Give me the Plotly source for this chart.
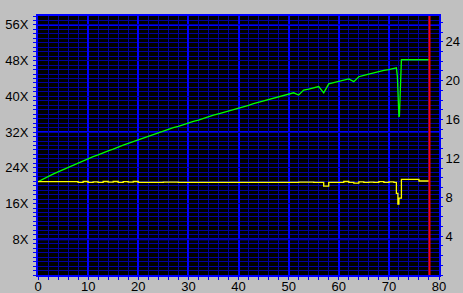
import plotly.graph_objects as go

# ---- data ----
pos_x = [0, 1, 2, 3, 4, 5, 6, 7, 8, 9, 10, 11, 12, 13, 14, 15, 16, 17, 18, 19,
         20, 21, 22, 23, 24, 25, 26, 27, 28, 29, 30, 31, 32, 33, 34, 35, 36, 37, 38, 39,
         40, 41, 42, 43, 44, 45, 46, 47, 48, 49, 50, 51, 52, 53, 54, 55, 56, 57, 58, 59,
         60, 61, 62, 63, 64, 65, 66, 67, 68, 69, 70, 71, 71.5, 71.7, 71.8, 71.9, 72.0,
         72.1, 72.2, 72.3, 72.5, 78.0]
speed = [20.9, 21.5, 22.0, 22.6, 23.1, 23.6, 24.1, 24.6, 25.1, 25.6, 26.0, 26.5, 26.9,
         27.4, 27.8, 28.2, 28.7, 29.1, 29.5, 29.9, 30.3, 30.7, 31.1, 31.5, 31.8, 32.2,
         32.6, 33.0, 33.3, 33.7, 34.0, 34.4, 34.7, 35.1, 35.4, 35.8, 36.1, 36.4, 36.8,
         37.1, 37.4, 37.7, 38.0, 38.4, 38.7, 39.0, 39.3, 39.6, 39.9, 40.2, 40.5, 40.8,
         40.3, 41.4, 41.6, 41.9, 42.2, 40.8, 42.8, 43.1, 43.4, 43.6, 43.9, 43.3, 44.4,
         44.7, 45.0, 45.3, 45.5, 45.8, 46.0, 46.3, 46.4, 44.4, 40.8, 37.4, 35.4,
         35.6, 38.5, 44.8, 48.2, 48.2]

rpm_x = [0, 7, 8, 9, 10, 11, 12, 13, 14, 15, 16, 17, 18, 19, 20, 22, 25, 28, 30, 35,
         40, 45, 50, 52, 55, 56, 57, 58, 60, 61, 62, 63, 64, 65, 66, 67, 68, 69, 70, 71,
         71.5, 71.8, 72.0, 72.3, 72.5, 75.7, 76.0, 78.0]
rpm = [9.60, 9.60, 9.53, 9.62, 9.53, 9.58, 9.53, 9.62, 9.55, 9.62, 9.53, 9.60, 9.55,
       9.62, 9.53, 9.53, 9.55, 9.53, 9.53, 9.53, 9.53, 9.53, 9.53, 9.55, 9.53, 9.53,
       9.15, 9.53, 9.53, 9.62, 9.53, 9.45, 9.58, 9.53, 9.55, 9.53, 9.60, 9.53, 9.58,
       9.53, 8.40, 7.30, 7.90, 7.90, 9.84, 9.84, 9.67, 9.63]

end_marker_x = [78.1, 78.1]
end_marker_y = [0, 58]

x_ticks = [0, 10, 20, 30, 40, 50, 60, 70, 80]
left_ticks = [8, 16, 24, 32, 40, 48, 56]
left_labels = ["8X", "16X", "24X", "32X", "40X", "48X", "56X"]
right_ticks = [4, 8, 12, 16, 20, 24]
right_labels = ["4", "8", "12", "16", "20", "24"]
bright_levels = [8, 32, 56]

BRIGHT = "#0000FF"
DARK = "#0000A0"
FONT = dict(family="Liberation Sans, Arial, sans-serif", size=13, color="black")

fig = go.Figure()
fig.add_trace(go.Scatter(x=rpm_x, y=rpm, mode="lines", yaxis="y2",
                         line=dict(color="#FFFF00", width=1.3, shape="hv"),
                         hoverinfo="skip", showlegend=False))
fig.add_trace(go.Scatter(x=pos_x, y=speed, mode="lines",
                         line=dict(color="#00FF00", width=1.3),
                         hoverinfo="skip", showlegend=False))
fig.add_trace(go.Scatter(x=end_marker_x, y=end_marker_y, mode="lines", yaxis="y2",
                         line=dict(color="#FF0000", width=2),
                         hoverinfo="skip", showlegend=False))

for lv in bright_levels:
    fig.add_shape(type="line", xref="paper", x0=0, x1=1, yref="y", y0=lv, y1=lv,
                  line=dict(color=BRIGHT, width=2), layer="below")

fig.update_layout(
    width=463, height=293,
    margin=dict(l=38, r=24, t=16, b=18, pad=0, autoexpand=False),
    paper_bgcolor="#C0C0C0",
    plot_bgcolor="black",
    font=FONT,
    xaxis=dict(range=[0, 80], tickvals=x_ticks, ticktext=[str(v) for v in x_ticks],
               showgrid=True, gridcolor=BRIGHT, gridwidth=2, automargin=False,
               ticks="outside", ticklen=3, tickcolor=BRIGHT,
               minor=dict(dtick=2, tick0=0, showgrid=True, gridcolor=DARK, gridwidth=1,
                          ticks="outside", ticklen=3, tickcolor=BRIGHT),
               showline=True, mirror=True, linecolor=BRIGHT, linewidth=2,
               zeroline=False, tickfont=FONT, fixedrange=True, ticklabelstandoff=-5),
    yaxis=dict(range=[0, 58], tickvals=left_ticks, ticktext=left_labels,
               showgrid=True, gridcolor=DARK, gridwidth=1, automargin=False,
               ticks="outside", ticklen=3, tickcolor=BRIGHT,
               minor=dict(dtick=1, tick0=0, showgrid=True, gridcolor=DARK, gridwidth=1,
                          ticks="outside", ticklen=3, tickcolor=BRIGHT),
               showline=True, mirror=True, linecolor=BRIGHT, linewidth=2,
               zeroline=False, tickfont=FONT, fixedrange=True, ticklabelstandoff=2),
    yaxis2=dict(range=[0, 26.65], overlaying="y", side="right", automargin=False,
                tickvals=right_ticks, ticktext=right_labels,
                showgrid=False, ticks="outside", ticklen=3, tickcolor=BRIGHT,
                minor=dict(dtick=1, tick0=0, showgrid=False,
                           ticks="outside", ticklen=3, tickcolor=BRIGHT),
                zeroline=False, tickfont=FONT, fixedrange=True),
)

fig.write_html("out.html")
